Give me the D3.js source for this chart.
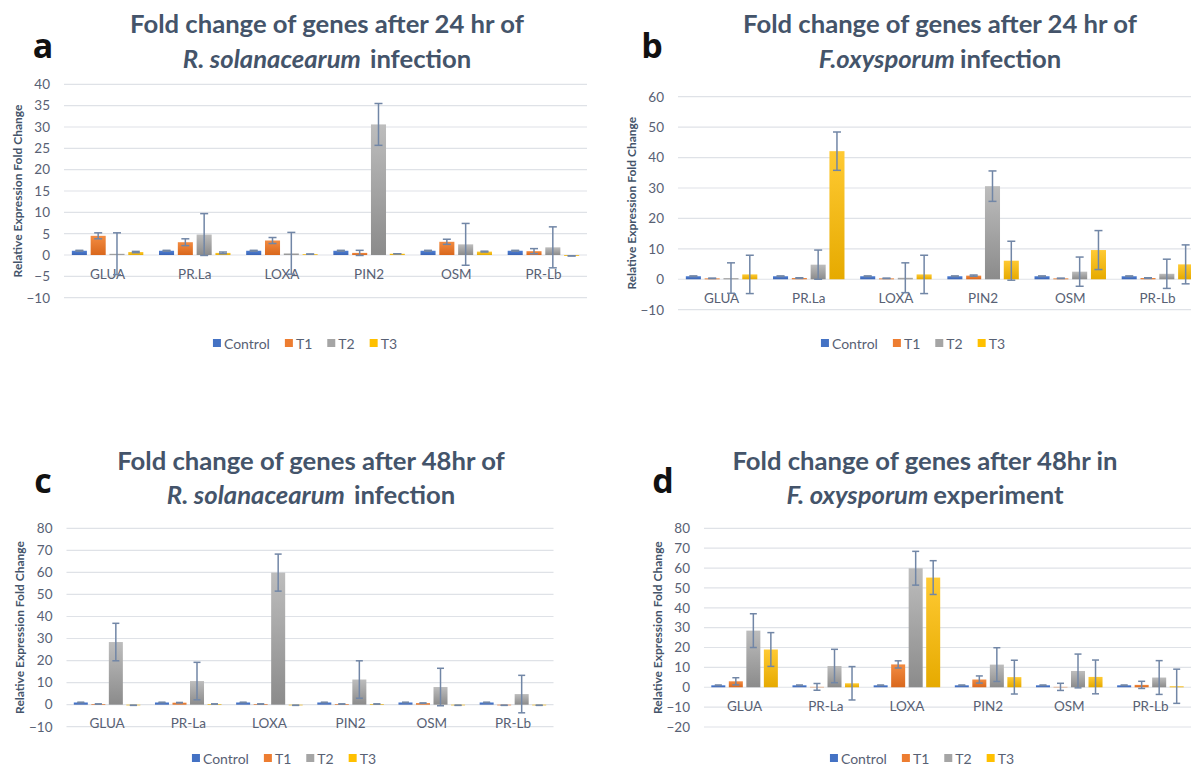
<!DOCTYPE html>
<html><head><meta charset="utf-8">
<script src="https://cdn.jsdelivr.net/npm/d3@7"></script>
<style>body{margin:0;background:#fff;overflow:hidden}svg{display:block}</style>
</head><body>
<svg id="chart" width="1191" height="765"></svg>
<script>
// ---------- data ----------
const seriesNames = ["Control", "T1", "T2", "T3"];
const categoriesA = ["GLUA", "PR.La", "LOXA", "PIN2", "OSM", "PR-Lb"];
const categoriesB = ["GLUA", "PR.La", "LOXA", "PIN2", "OSM", "PR-Lb"];
const categoriesC = ["GLUA", "PR-La", "LOXA", "PIN2", "OSM", "PR-Lb"];
const categoriesD = ["GLUA", "PR-La", "LOXA", "PIN2", "OSM", "PR-Lb"];

// means per series: Control, T1, T2, T3
const meansA = [
  [1.0, 1.0, 1.0, 1.0, 1.0, 1.0],
  [4.5, 3.0, 3.4, 0.5, 3.1, 0.9],
  [0.3, 4.8, 0.4, 30.6, 2.5, 1.8],
  [0.7, 0.5, 0.2, 0.3, 0.8, -0.2]
];
const errorsA = [
  [0.1, 0.1, 0.1, 0.1, 0.1, 0.1],
  [0.7, 0.8, 0.7, 0.6, 0.6, 0.6],
  [4.9, 4.9, 4.9, 4.9, 4.9, 4.8],
  [0.15, 0.2, 0, 0, 0.1, 0]
];
const meansB = [
  [1.0, 1.0, 1.0, 1.0, 1.0, 1.0],
  [0.3, 0.4, 0.3, 1.2, 0.3, 0.4],
  [0.4, 4.8, 0.5, 30.6, 2.5, 1.8],
  [1.6, 42.1, 1.6, 6.1, 9.6, 4.9]
];
const errorsB = [
  [0.1, 0.1, 0.1, 0.1, 0.1, 0.1],
  [0.05, 0.1, 0.05, 0.2, 0.05, 0.1],
  [5.0, 4.8, 4.9, 5.0, 4.8, 4.8],
  [6.3, 6.3, 6.3, 6.4, 6.4, 6.4]
];
const meansC = [
  [1.0, 1.0, 1.0, 1.0, 1.0, 1.0],
  [0.3, 0.9, 0.3, 0.3, 0.7, -0.3],
  [28.4, 10.7, 59.9, 11.4, 8.0, 4.8],
  [-0.3, 0.3, -0.3, 0.3, -0.3, -0.3]
];
const errorsC = [
  [0.1, 0.1, 0.1, 0.1, 0.1, 0.1],
  [0, 0.1, 0, 0, 0, 0],
  [8.5, 8.5, 8.4, 8.5, 8.5, 8.5],
  [0, 0, 0, 0, 0, 0]
];
const meansD = [
  [1.0, 1.0, 1.0, 1.0, 1.0, 1.0],
  [3.0, 0.2, 11.5, 3.9, 0.2, 1.2],
  [28.5, 10.7, 59.9, 11.4, 8.2, 4.9],
  [19.0, 2.0, 55.2, 5.1, 5.2, 0.5]
];
const errorsD = [
  [0.1, 0.1, 0.1, 0.1, 0.1, 0.1],
  [1.8, 1.7, 1.8, 1.8, 1.8, 1.8],
  [8.5, 8.4, 8.5, 8.5, 8.5, 8.5],
  [8.5, 8.4, 8.5, 8.5, 8.5, 8.6]
];
const ticksA = [-10, -5, 0, 5, 10, 15, 20, 25, 30, 35, 40];
const ticksB = [-10, 0, 10, 20, 30, 40, 50, 60];
const ticksC = [-10, 0, 10, 20, 30, 40, 50, 60, 70, 80];
const ticksD = [-20, -10, 0, 10, 20, 30, 40, 50, 60, 70, 80];

// ---------- styles ----------
const flatColors = ["#4472C4", "#ED7D31", "#A5A5A5", "#FFC000"];
const gradStops = [["#4f80d6", "#3b64b3"], ["#f38c42", "#d9671c"], ["#bdbdbd", "#8b8b8b"], ["#ffca33", "#e6aa00"]];
const FONT = "Lato, 'Open Sans', 'DejaVu Sans', sans-serif";
const titleColor = "#44546A";
const textColor = "#586174";
const errColor = "#7186a6";

const svg = d3.select("#chart");
const defs = svg.append("defs");
seriesNames.forEach((s, i) => {
  const lg = defs.append("linearGradient").attr("id", "grad" + i)
    .attr("x1", 0).attr("y1", 0).attr("x2", 0).attr("y2", 1);
  lg.append("stop").attr("offset", "0%").attr("stop-color", gradStops[i][0]);
  lg.append("stop").attr("offset", "100%").attr("stop-color", gradStops[i][1]);
});

const panels = [
  { letter: "a", cats: categoriesA, means: meansA, errs: errorsA, ticks: ticksA, domain: [-10, 40],
    xr: [64, 587], yr: [297.7, 84.3], cap: 8,
    t1: "Fold change of genes after 24 hr of", t2i: "R. solanacearum", t2: "infection", t2gap: 9,
    tx: 327, ty: [33, 68], lx: 43, ly: 58, legCX: 305, legY: 343 },
  { letter: "b", cats: categoriesB, means: meansB, errs: errorsB, ticks: ticksB, domain: [-10, 60],
    xr: [678, 1201], yr: [309.7, 96.7], cap: 8,
    t1: "Fold change of genes after 24 hr of", t2i: "F.oxysporum", t2: "infection", t2gap: 5,
    tx: 940, ty: [33, 68], lx: 652, ly: 58, legCX: 913, legY: 343 },
  { letter: "c", cats: categoriesC, means: meansC, errs: errorsC, ticks: ticksC, domain: [-10, 80],
    xr: [66.5, 553.5], yr: [726.7, 528.3], cap: 7,
    t1: "Fold change of genes after 48hr of", t2i: "R. solanacearum", t2: "infection", t2gap: 9,
    tx: 311, ty: [470, 504], lx: 43, ly: 493, legCX: 284, legY: 758 },
  { letter: "d", cats: categoriesD, means: meansD, errs: errorsD, ticks: ticksD, domain: [-20, 80],
    xr: [704, 1191], yr: [727, 528.3], cap: 7,
    t1: "Fold change of genes after 48hr in", t2i: "F. oxysporum", t2: "experiment", t2gap: 5,
    tx: 925, ty: [470, 504], lx: 663, ly: 493, legCX: 922, legY: 758 }
];

// title font size fitted so that panel a first line is ~394px wide
let titleSize = 24;
{
  const t = svg.append("text").attr("font-family", FONT).attr("font-weight", 700)
    .attr("font-size", 24).text(panels[0].t1);
  const w = t.node().getComputedTextLength();
  titleSize = 24 * 394 / w;
  t.remove();
}

function drawPanel(p) {
  const g = svg.append("g");
  const x0 = d3.scaleBand().domain(p.cats).range(p.xr).paddingInner(0).paddingOuter(0);
  const bw = x0.bandwidth();
  const x1 = d3.scaleBand().domain(seriesNames).range([bw * 0.09, bw * 0.91]).paddingInner(0.2).paddingOuter(0);
  const y = d3.scaleLinear().domain(p.domain).range(p.yr);

  // gridlines
  g.append("g").selectAll("line").data(p.ticks).join("line")
    .attr("x1", p.xr[0]).attr("x2", p.xr[1])
    .attr("y1", d => y(d)).attr("y2", d => y(d))
    .attr("stroke", "#dfe2e7").attr("stroke-width", 1.2);

  // y tick labels
  const ya = g.append("g").attr("transform", `translate(${p.xr[0]},0)`)
    .call(d3.axisLeft(y).tickValues(p.ticks).tickSize(0).tickPadding(14));
  ya.select(".domain").remove();
  ya.selectAll("text").attr("font-family", FONT).attr("font-size", 13.5).attr("fill", textColor);

  // y-axis title
  g.append("text")
    .attr("transform", `translate(${p.xr[0] - 47},${(p.yr[0] + p.yr[1]) / 2}) rotate(-90)`)
    .attr("text-anchor", "middle").attr("dominant-baseline", "central")
    .attr("font-family", FONT).attr("font-weight", 700).attr("font-size", 12)
    .attr("fill", titleColor).text("Relative Expression Fold Change");

  // bars
  const rows = [];
  p.cats.forEach((c, ci) => seriesNames.forEach((s, si) => {
    rows.push({ c, s, si, v: p.means[si][ci], e: p.errs[si][ci] });
  }));
  g.append("g").selectAll("rect").data(rows).join("rect")
    .attr("x", d => x0(d.c) + x1(d.s))
    .attr("width", x1.bandwidth())
    .attr("y", d => y(Math.max(0, d.v)))
    .attr("height", d => Math.abs(y(d.v) - y(0)))
    .attr("fill", d => `url(#grad${d.si})`);

  // category labels
  const xa = g.append("g").attr("transform", `translate(0,${y(0)})`)
    .call(d3.axisBottom(x0).tickSize(0).tickPadding(14));
  xa.select(".domain").remove();
  xa.selectAll("text").attr("font-family", FONT).attr("font-size", 13.5).attr("fill", textColor);

  // error bars
  const eg = g.append("g").attr("stroke", errColor).attr("stroke-width", 1.5).attr("fill", "none");
  rows.forEach(d => {
    const cx = x0(d.c) + x1(d.s) + x1.bandwidth() / 2;
    const yt = y(d.v + d.e), yb = y(d.v - d.e);
    if (d.e > 0) eg.append("line").attr("x1", cx).attr("x2", cx).attr("y1", yt).attr("y2", yb);
    eg.append("line").attr("x1", cx - p.cap / 2).attr("x2", cx + p.cap / 2).attr("y1", yt).attr("y2", yt);
    eg.append("line").attr("x1", cx - p.cap / 2).attr("x2", cx + p.cap / 2).attr("y1", yb).attr("y2", yb);
  });

  // legend
  const lg = g.append("g");
  let cur = 0;
  const items = [];
  seriesNames.forEach((s, i) => {
    const it = lg.append("g");
    it.append("rect").attr("x", 0).attr("y", -4).attr("width", 8).attr("height", 8).attr("fill", flatColors[i]);
    const t = it.append("text").attr("x", 11).attr("y", 0).attr("dominant-baseline", "central")
      .attr("font-family", FONT).attr("font-size", 14).attr("fill", textColor).text(s);
    const w = 11 + t.node().getComputedTextLength();
    it.attr("transform", `translate(${cur},0)`);
    cur += w + 15;
  });
  const totalW = cur - 15;
  lg.attr("transform", `translate(${p.legCX - totalW / 2},${p.legY})`);

  // title
  const tt = svg.append("text").attr("text-anchor", "middle")
    .attr("font-family", FONT).attr("font-weight", 700).attr("font-size", titleSize).attr("fill", titleColor);
  tt.append("tspan").attr("x", p.tx).attr("y", p.ty[0]).text(p.t1);
  const t2 = svg.append("text").attr("text-anchor", "middle")
    .attr("font-family", FONT).attr("font-weight", 700).attr("font-size", titleSize).attr("fill", titleColor)
    .attr("x", p.tx).attr("y", p.ty[1]);
  t2.append("tspan").attr("font-style", "italic").text(p.t2i);
  t2.append("tspan").attr("dx", p.t2gap).text(p.t2);

  // panel letter
  svg.append("text").attr("x", p.lx).attr("y", p.ly).attr("text-anchor", "middle")
    .attr("font-family", "'Open Sans', 'DejaVu Sans', sans-serif").attr("font-weight", 700)
    .attr("font-size", 34).attr("fill", "#111").text(p.letter);
}
panels.forEach(drawPanel);
</script>
</body></html>
